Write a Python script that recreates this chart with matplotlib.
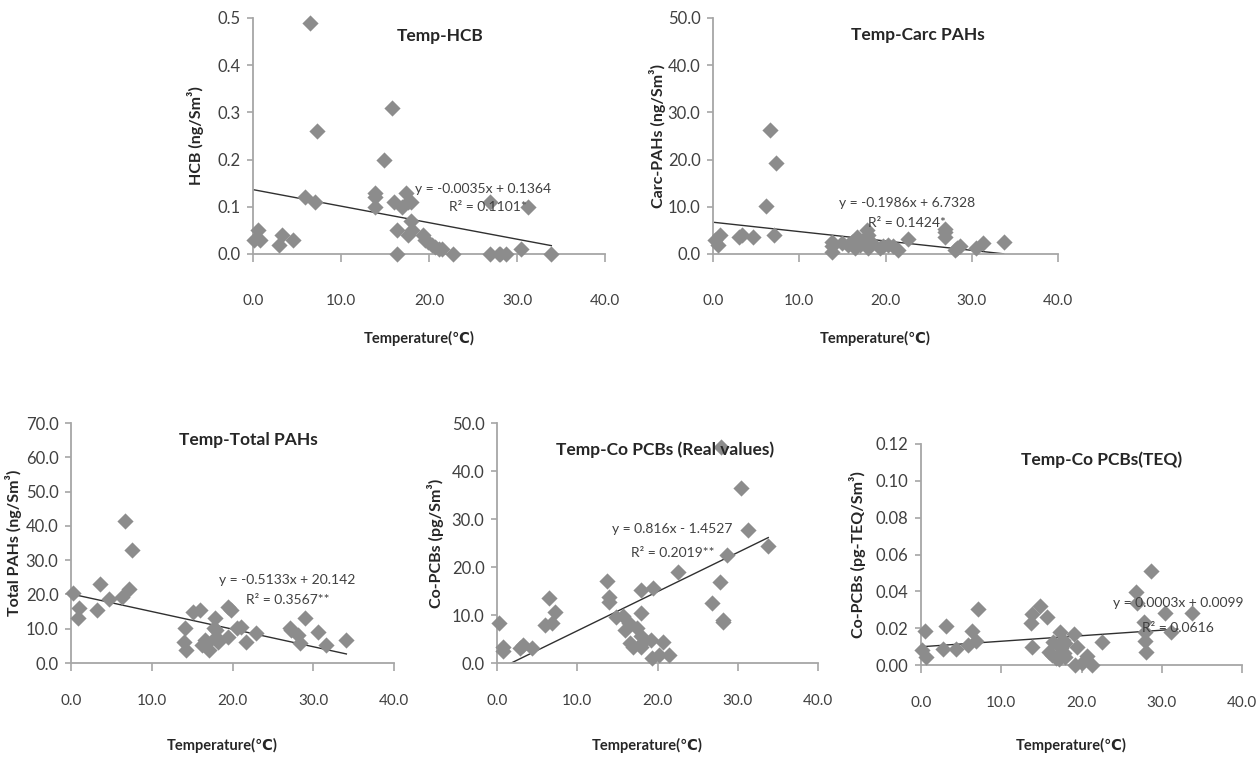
import numpy as np
import matplotlib
matplotlib.use("Agg")
from matplotlib import pyplot as plt

# ---------data---------
hcb_t = [0.1, 0.6, 0.8, 3.0, 3.3, 4.5, 5.9, 6.5, 7.0, 7.3, 13.9, 13.9, 13.9, 14.9, 15.8, 16.0, 16.4, 16.4,
         16.9, 17.4, 17.6, 17.9, 17.9, 17.6, 18.1, 19.3, 19.5, 19.9, 20.3, 20.7, 21.1, 21.5, 22.7, 26.9,
         26.9, 28.0, 28.1, 28.8, 30.4, 31.3, 33.9]
hcb_v = [0.03, 0.05, 0.03, 0.02, 0.04, 0.03, 0.12, 0.49, 0.11, 0.26, 0.12, 0.13, 0.10, 0.20, 0.31, 0.11,
         0.05, 0.00, 0.10, 0.13, 0.11, 0.11, 0.07, 0.04, 0.05, 0.04, 0.03, 0.025, 0.02, 0.015, 0.01, 0.01,
         0.00, 0.11, 0.00, 0.00, 0.00, 0.00, 0.01, 0.10, 0.00]

carc_t = [0.2, 0.6, 0.8, 3.0, 3.4, 4.6, 6.1, 6.6, 7.1, 7.3, 13.8, 13.8, 13.8, 14.9, 15.7, 16.1, 16.5, 16.7,
          17.0, 17.4, 17.8, 18.0, 18.0, 18.4, 19.4, 19.7, 20.3, 20.9, 21.5, 22.6, 26.9, 26.9, 26.9, 28.1,
          28.3, 28.6, 30.5, 31.3, 33.7]
carc_v = [3.0, 2.0, 4.0, 3.5, 4.0, 3.5, 10.2, 26.3, 4.0, 19.2, 2.6, 1.6, 0.5, 2.3, 1.9, 2.6, 1.2, 3.7, 1.9,
          2.6, 5.1, 4.0, 1.2, 2.3, 1.2, 1.6, 1.9, 1.6, 0.8, 3.1, 5.4, 4.7, 3.7, 0.8, 1.2, 1.6, 1.2, 2.3, 2.6]

tot_t = [0.3, 1.0, 0.9, 3.2, 3.6, 4.7, 6.3, 7.2, 6.7, 7.5, 14.1, 14.0, 14.2, 15.1, 16.0, 16.2, 16.6, 16.8,
         17.1, 17.8, 17.7, 18.0, 18.2, 18.0, 19.5, 19.8, 19.5, 20.5, 21.1, 21.7, 22.9, 27.1, 27.2, 28.1,
         28.3, 29.0, 30.6, 31.6, 34.1]
tot_v = [20.3, 16.0, 13.0, 15.5, 23.0, 18.6, 19.2, 21.5, 41.5, 33.0, 10.1, 6.2, 3.8, 15.0, 15.5, 5.2, 6.7,
         5.7, 3.8, 13.0, 10.1, 9.6, 6.2, 7.7, 16.4, 15.5, 7.7, 10.1, 10.6, 6.2, 8.7, 10.1, 9.6, 8.2, 5.9,
         13.0, 9.1, 5.2, 6.7]

pcb_t = [0.2, 0.7, 0.8, 2.9, 3.3, 4.4, 6.0, 6.9, 6.5, 7.2, 13.7, 13.9, 13.9, 14.8, 15.7, 16.5, 16.0, 16.6,
         17.0, 18.0, 17.9, 17.4, 18.0, 18.2, 17.9, 19.2, 19.3, 19.5, 20.2, 20.7, 21.4, 22.6, 26.8, 27.8,
         28.1, 28.1, 28.7, 27.9, 31.3, 33.8, 30.4]
pcb_v = [8.4, 3.4, 2.4, 3.1, 3.75, 3.2, 7.9, 8.3, 13.5, 10.7, 17.1, 13.8, 12.8, 9.6, 9.8, 8.4, 6.9, 4.1,
         3.4, 3.4, 10.4, 7.2, 5.6, 4.4, 15.2, 4.8, 1.0, 15.6, 1.7, 4.4, 1.7, 19.0, 12.4, 16.9, 8.6, 9.0,
         22.5, 44.9, 27.8, 24.4, 36.4]

teq_t = [0.1, 0.5, 0.6, 2.8, 3.1, 4.4, 5.9, 6.3, 6.9, 7.1, 13.7, 13.8, 13.8, 14.8, 15.7, 15.9, 16.3, 16.8,
         17.2, 16.5, 17.3, 17.7, 17.9, 17.5, 17.8, 17.9, 19.1, 19.2, 19.5, 20.1, 20.7, 21.3, 22.5, 26.8,
         26.9, 27.8, 27.9, 28.0, 27.9, 28.6, 30.4, 31.2, 33.8]
teq_v = [0.0081, 0.0186, 0.0045, 0.0085, 0.0212, 0.0085, 0.0109, 0.0186, 0.0132, 0.0304, 0.023, 0.0277,
         0.0099, 0.032, 0.0259, 0.0072, 0.0054, 0.0036, 0.003, 0.0127, 0.018, 0.0136, 0.0118, 0.0091,
         0.0064, 0.0042, 0.0168, 0.0, 0.0099, 0.0009, 0.0049, 0.0, 0.0127, 0.0398, 0.0335, 0.0235, 0.0132,
         0.0072, 0.018, 0.0512, 0.0284, 0.018, 0.0284]

titles = ["Temp-HCB", "Temp-Carc PAHs", "Temp-Total PAHs", "Temp-Co PCBs (Real values)", "Temp-Co PCBs(TEQ)"]
ylabels = ["HCB (ng/Sm³)", "Carc-PAHs (ng/Sm³)", "Total PAHs (ng/Sm³)", "Co-PCBs (pg/Sm³)",
           "Co-PCBs (pg-TEQ/Sm³)"]
slopes = [-0.0035, -0.1986, -0.5133, 0.816, 0.0003]
intercepts = [0.1364, 6.7328, 20.142, -1.4527, 0.0099]
eq_text = ["y = -0.0035x + 0.1364", "y = -0.1986x + 6.7328", "y = -0.5133x + 20.142",
           "y = 0.816x - 1.4527", "y = 0.0003x + 0.0099"]
r2_text = ["R² = 0.1101*", "R² = 0.1424*", "R² = 0.3567**", "R² = 0.2019**", "R² = 0.0616"]
trend_end = [33.9, 33.7, 34.1, 33.8, 32.0]
y_max = [0.5, 50, 70, 50, 0.12]
y_step = [0.1, 10, 10, 10, 0.02]
y_fmt = ["{:.1f}", "{:.1f}", "{:.1f}", "{:.1f}", "{:.2f}"]
x_ticks = [0, 10, 20, 30, 40]

# ---------layout (pixels of the 1260x757 picture)---------
W, H = 1260, 757
boxes = [(253, 18, 605, 254), (713, 18, 1058, 254), (71, 423, 394, 663), (497, 423, 818, 663),
         (921, 444, 1242, 665)]
title_xy = [(440, 36), (918, 35), (248, 440), (665, 450), (1102, 460)]
eq_xy = [(483, 189), (907, 203), (287, 580), (672, 529), (1178, 603)]
r2_xy = [(488, 207), (907, 223), (288, 600), (673, 553), (1178, 628)]
ylab_x = [196, 657, 14, 436, 857]
xlab_y = [338, 338, 745, 745, 745]

main = ['Lato', 'DejaVu Sans']
grey = '#a6a6a6'
mark = '#8c8c8c'

xs = [hcb_t, carc_t, tot_t, pcb_t, teq_t]
ys = [hcb_v, carc_v, tot_v, pcb_v, teq_v]

fig = plt.figure(figsize=(12.6, 7.57), dpi=100)


def fx(x):
    return x / W


def fy(y):
    return 1 - y / H


for i in range(5):
    l, t, r, b = boxes[i]
    ax = fig.add_axes([fx(l), fy(b), (r - l) / W, (b - t) / H])
    ax.scatter(xs[i], ys[i], marker='D', s=68, color=mark, linewidths=0, clip_on=False, zorder=3)
    tx = np.array([min(xs[i]), trend_end[i]])
    ax.plot(tx, slopes[i] * tx + intercepts[i], color='#303030', lw=1.0, zorder=2)
    ax.set_xlim(0, 40)
    ax.set_ylim(0, y_max[i])
    ax.set_xticks(x_ticks)
    yt = np.arange(0, y_max[i] + y_step[i] / 2, y_step[i])
    ax.set_yticks(yt)
    ax.set_yticklabels([y_fmt[i].format(v) for v in yt], family=main, fontsize=12, color='#404040')
    ax.set_xticklabels(["{:.1f}".format(v) for v in x_ticks], family=main, fontsize=11, color='#404040')
    for s in ['top', 'right']:
        ax.spines[s].set_visible(False)
    for s in ['left', 'bottom']:
        ax.spines[s].set_color(grey)
        ax.spines[s].set_linewidth(1.3)
    ax.tick_params(axis='y', length=4, color=grey, width=1.2, pad=5)
    ax.tick_params(axis='x', length=6, color=grey, width=1.2, pad=23 if i < 2 else 16)
    ax.set_facecolor('none')

    fig.text(fx(title_xy[i][0]), fy(title_xy[i][1]), titles[i], family=main, fontsize=12.5,
             fontweight='bold', color='#262626', ha='center', va='center')
    fig.text(fx(eq_xy[i][0]), fy(eq_xy[i][1]), eq_text[i], family=main, fontsize=10,
             color='#404040', ha='center', va='center')
    fig.text(fx(r2_xy[i][0]), fy(r2_xy[i][1]), r2_text[i], family=main, fontsize=10,
             color='#404040', ha='center', va='center')
    fig.text(fx(ylab_x[i]), fy((t + b) / 2), ylabels[i], family=main, fontsize=11.5, fontweight='bold',
             color='#262626', rotation=90, ha='center', va='center')
    fig.text(fx((l + r) / 2 - 10), fy(xlab_y[i]), "Temperature(℃)", family=main, fontsize=10.5,
             fontweight='bold', color='#262626', ha='center', va='center')

fig.savefig("out.png", dpi=100, facecolor='white')
